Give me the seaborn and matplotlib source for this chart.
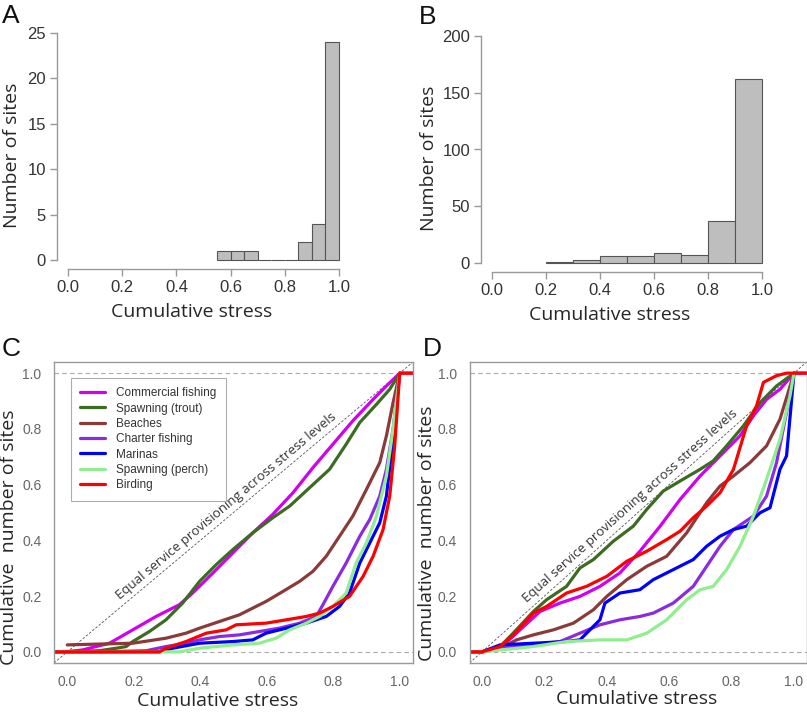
import numpy as np
import pandas as pd
import seaborn as sns
import matplotlib
matplotlib.use("Agg")
import matplotlib.pyplot as plt
from matplotlib.ticker import FormatStrFormatter

### Datos
## Histograma A: sitios por clase de estres acumulado
edges_a = [0.55, 0.60, 0.65, 0.70, 0.75, 0.80, 0.85, 0.90, 0.95, 1.00]
counts_a = [1, 1, 1, 0, 0, 0, 2, 4, 24]

## Histograma B
edges_b = [0.2, 0.3, 0.4, 0.5, 0.6, 0.7, 0.8, 0.9, 1.0]
counts_b = [1, 3, 6, 6, 9, 7, 37, 162]

## Curvas acumuladas, panel C
servicios = ["Commercial fishing", "Spawning (trout)", "Beaches", "Charter fishing",
             "Marinas", "Spawning (perch)", "Birding"]
colores = ["#D000F0", "#3C6B22", "#8B3A3A", "#8A2BE2", "#0000FF", "#90EE90", "#FF0000"]

c_commercial_x = [-0.05, 0.0, 0.046, 0.127, 0.197, 0.267, 0.337, 0.377, 0.438, 0.498, 0.558, 0.618, 0.679, 0.739, 0.799, 0.859, 0.920, 0.960, 1.0, 1.05]
c_commercial_y = [0.0, 0.0, 0.007, 0.031, 0.079, 0.127, 0.169, 0.211, 0.283, 0.355, 0.427, 0.493, 0.571, 0.661, 0.745, 0.829, 0.906, 0.954, 1.0, 1.0]
c_trout_x = [-0.05, 0.096, 0.147, 0.177, 0.197, 0.247, 0.297, 0.347, 0.398, 0.448, 0.498, 0.558, 0.618, 0.669, 0.729, 0.789, 0.839, 0.880, 0.930, 0.970, 1.0]
c_trout_y = [0.0, 0.004, 0.013, 0.019, 0.037, 0.073, 0.115, 0.175, 0.253, 0.313, 0.367, 0.427, 0.481, 0.523, 0.589, 0.655, 0.745, 0.823, 0.888, 0.942, 1.0]
c_beaches_x = [0.0, 0.197, 0.297, 0.357, 0.398, 0.458, 0.518, 0.558, 0.598, 0.649, 0.699, 0.739, 0.779, 0.819, 0.859, 0.900, 0.940, 0.960, 0.980, 1.0]
c_beaches_y = [0.025, 0.031, 0.049, 0.067, 0.085, 0.109, 0.133, 0.157, 0.181, 0.217, 0.253, 0.289, 0.343, 0.415, 0.487, 0.583, 0.679, 0.775, 0.894, 1.0]
c_charter_x = [-0.05, 0.096, 0.237, 0.297, 0.357, 0.398, 0.458, 0.518, 0.578, 0.638, 0.699, 0.749, 0.769, 0.799, 0.839, 0.880, 0.910, 0.940, 0.960, 0.980, 1.0]
c_charter_y = [0.0, 0.0, 0.004, 0.019, 0.031, 0.043, 0.055, 0.061, 0.073, 0.085, 0.103, 0.127, 0.169, 0.235, 0.319, 0.415, 0.475, 0.559, 0.655, 0.799, 1.0]
c_marinas_x = [-0.05, 0.277, 0.317, 0.398, 0.498, 0.558, 0.598, 0.659, 0.719, 0.779, 0.819, 0.849, 0.880, 0.910, 0.940, 0.960, 0.980, 1.0]
c_marinas_y = [0.0, 0.0, 0.013, 0.031, 0.037, 0.043, 0.067, 0.085, 0.103, 0.127, 0.163, 0.211, 0.319, 0.391, 0.463, 0.559, 0.763, 1.0]
c_perch_x = [-0.05, 0.337, 0.398, 0.498, 0.578, 0.628, 0.669, 0.719, 0.759, 0.799, 0.839, 0.869, 0.900, 0.930, 0.960, 0.980, 1.0]
c_perch_y = [0.0, 0.0, 0.013, 0.025, 0.031, 0.049, 0.079, 0.103, 0.127, 0.163, 0.211, 0.319, 0.391, 0.487, 0.631, 0.799, 1.0]
c_birding_x = [-0.05, 0.277, 0.297, 0.357, 0.418, 0.478, 0.508, 0.598, 0.659, 0.719, 0.759, 0.799, 0.849, 0.890, 0.920, 0.950, 0.970, 0.985, 1.0, 1.05]
c_birding_y = [0.0, 0.0, 0.013, 0.037, 0.067, 0.079, 0.097, 0.103, 0.115, 0.127, 0.139, 0.163, 0.199, 0.271, 0.343, 0.439, 0.559, 0.739, 1.0, 1.0]

## Curvas acumuladas, panel D
d_commercial_x = [-0.05, 0.0, 0.058, 0.122, 0.186, 0.250, 0.314, 0.378, 0.442, 0.506, 0.571, 0.635, 0.699, 0.763, 0.827, 0.870, 0.912, 0.955, 1.0, 1.05]
d_commercial_y = [0.0, 0.0, 0.013, 0.079, 0.145, 0.175, 0.199, 0.235, 0.283, 0.361, 0.451, 0.547, 0.631, 0.703, 0.775, 0.847, 0.906, 0.942, 1.0, 1.0]
d_trout_x = [-0.05, 0.0, 0.058, 0.100, 0.165, 0.207, 0.271, 0.314, 0.357, 0.421, 0.485, 0.528, 0.581, 0.635, 0.699, 0.741, 0.784, 0.838, 0.891, 0.944, 1.0]
d_trout_y = [0.0, 0.0, 0.019, 0.067, 0.145, 0.187, 0.235, 0.301, 0.331, 0.397, 0.451, 0.511, 0.577, 0.613, 0.655, 0.685, 0.739, 0.811, 0.894, 0.954, 1.0]
d_beaches_x = [-0.05, 0.0, 0.058, 0.111, 0.165, 0.229, 0.293, 0.357, 0.400, 0.464, 0.528, 0.592, 0.656, 0.720, 0.763, 0.806, 0.859, 0.912, 0.955, 1.0]
d_beaches_y = [0.0, 0.0, 0.013, 0.043, 0.061, 0.079, 0.103, 0.151, 0.199, 0.259, 0.307, 0.343, 0.427, 0.535, 0.595, 0.631, 0.679, 0.739, 0.835, 1.0]
d_charter_x = [-0.05, 0.0, 0.058, 0.165, 0.250, 0.314, 0.378, 0.442, 0.506, 0.549, 0.613, 0.677, 0.720, 0.763, 0.806, 0.870, 0.912, 0.944, 0.976, 1.0]
d_charter_y = [0.0, 0.0, 0.013, 0.025, 0.037, 0.067, 0.097, 0.115, 0.127, 0.139, 0.175, 0.235, 0.307, 0.379, 0.439, 0.487, 0.559, 0.679, 0.859, 1.0]
d_marinas_x = [-0.05, 0.0, 0.058, 0.165, 0.271, 0.314, 0.346, 0.378, 0.394, 0.442, 0.506, 0.549, 0.613, 0.677, 0.720, 0.763, 0.806, 0.848, 0.891, 0.923, 0.955, 0.976, 1.0]
d_marinas_y = [0.0, 0.0, 0.025, 0.031, 0.037, 0.043, 0.079, 0.115, 0.175, 0.211, 0.223, 0.259, 0.295, 0.331, 0.379, 0.415, 0.439, 0.451, 0.499, 0.517, 0.655, 0.703, 1.0]
d_perch_x = [-0.05, 0.0, 0.165, 0.271, 0.378, 0.464, 0.528, 0.592, 0.656, 0.699, 0.741, 0.784, 0.827, 0.870, 0.912, 0.955, 0.987, 1.0]
d_perch_y = [0.0, 0.0, 0.019, 0.037, 0.043, 0.043, 0.067, 0.115, 0.187, 0.223, 0.235, 0.295, 0.379, 0.487, 0.619, 0.763, 0.918, 1.0]
d_birding_x = [-0.05, 0.0, 0.058, 0.100, 0.165, 0.207, 0.271, 0.335, 0.400, 0.464, 0.528, 0.592, 0.635, 0.677, 0.720, 0.763, 0.806, 0.848, 0.880, 0.902, 0.944, 0.976, 1.0, 1.05]
d_birding_y = [0.0, 0.0, 0.019, 0.061, 0.139, 0.163, 0.211, 0.235, 0.271, 0.325, 0.361, 0.403, 0.433, 0.481, 0.523, 0.571, 0.655, 0.811, 0.883, 0.967, 0.991, 1.0, 1.0, 1.0]

curvas_c = [(c_commercial_x, c_commercial_y), (c_trout_x, c_trout_y), (c_beaches_x, c_beaches_y),
            (c_charter_x, c_charter_y), (c_marinas_x, c_marinas_y), (c_perch_x, c_perch_y),
            (c_birding_x, c_birding_y)]
curvas_d = [(d_commercial_x, d_commercial_y), (d_trout_x, d_trout_y), (d_beaches_x, d_beaches_y),
            (d_charter_x, d_charter_y), (d_marinas_x, d_marinas_y), (d_perch_x, d_perch_y),
            (d_birding_x, d_birding_y)]

### Estilo
sns.set_style("white")
plt.rcParams['font.family'] = ['Liberation Sans', 'DejaVu Sans']
fuente_etiqueta = {'family': 'Open Sans', 'size': 14}

fig = plt.figure(figsize=(8.07, 7.14), dpi=100)
W, H = 807, 714


def ejes(left, top, right, bottom):
    # Crear ejes a partir de coordenadas en pixeles
    return fig.add_axes([left / W, 1 - bottom / H, (right - left) / W, (bottom - top) / H])


def histograma(ax, edges, counts, ymax, yticks):
    centros = [(a + b) / 2 for a, b in zip(edges[:-1], edges[1:])]
    df = pd.DataFrame({"Estres": centros, "Sitios": counts})
    sns.histplot(data=df, x="Estres", weights="Sitios", bins=edges, ax=ax,
                 color="#BEBEBE", edgecolor="#555555", linewidth=0.8, alpha=1)
    ax.set_xlim(-0.04, 1.04)
    ax.set_ylim(-ymax * 0.04, ymax * 1.04)
    ax.set_xticks([0, 0.2, 0.4, 0.6, 0.8, 1.0])
    ax.xaxis.set_major_formatter(FormatStrFormatter('%.1f'))
    ax.set_yticks(yticks)
    for s in ["top", "right"]:
        ax.spines[s].set_visible(False)
    ax.spines["left"].set_bounds(0, ymax)
    ax.spines["bottom"].set_bounds(0, 1)
    for s in ["left", "bottom"]:
        ax.spines[s].set_color("#999999")
        ax.spines[s].set_linewidth(1)
    ax.tick_params(axis="both", direction="out", length=5, width=1, color="#999999",
                   labelsize=12, labelcolor="#333333", pad=3, bottom=True, left=True)
    ax.set_xlabel("Cumulative stress", fontdict=fuente_etiqueta)
    ax.set_ylabel("Number of sites", fontdict=fuente_etiqueta)


## Panel A
ax_a = ejes(57.2, 23.9, 349.8, 269.1)
histograma(ax_a, edges_a, counts_a, 25, [0, 5, 10, 15, 20, 25])
ax_a.xaxis.set_label_coords(0.461, -0.138)
ax_a.yaxis.set_label_coords(-0.124, 0.465)

## Panel B
ax_b = ejes(481.2, 26.9, 772.8, 272.1)
histograma(ax_b, edges_b, counts_b, 200, [0, 50, 100, 150, 200])
ax_b.xaxis.set_label_coords(0.442, -0.138)
ax_b.yaxis.set_label_coords(-0.148, 0.465)


def acumulado(ax, curvas, leyenda):
    ax.set_xlim(-0.04, 1.04)
    ax.set_ylim(-0.04, 1.04)
    ax.axhline(0, color="#AAAAAA", lw=0.8, ls=(0, (4, 3)))
    ax.axhline(1, color="#AAAAAA", lw=0.8, ls=(0, (4, 3)))
    ax.plot([-0.04, 1.04], [-0.04, 1.04], color="#555555", lw=0.6, ls=(0, (3, 2)))
    for (xs, ys), nombre, color in zip(curvas, servicios, colores):
        sns.lineplot(x=xs, y=ys, ax=ax, color=color, lw=2.3, sort=False, estimator=None,
                     label=nombre if leyenda else None)
    # Texto sobre la diagonal
    p0 = ax.transData.transform((0, 0))
    p1 = ax.transData.transform((1, 1))
    ang = np.degrees(np.arctan2(p1[1] - p0[1], p1[0] - p0[0]))
    ax.text(0.49, 0.505, "Equal service provisioning across stress levels", rotation=ang,
            rotation_mode="anchor", ha="center", va="bottom", fontsize=9.5,
            color="#333333", family="Open Sans")
    ax.set_xticks([0, 0.2, 0.4, 0.6, 0.8, 1.0])
    ax.set_yticks([0, 0.2, 0.4, 0.6, 0.8, 1.0])
    ax.xaxis.set_major_formatter(FormatStrFormatter('%.1f'))
    ax.yaxis.set_major_formatter(FormatStrFormatter('%.1f'))
    ax.tick_params(axis="both", length=0, labelsize=10, labelcolor="#666666", pad=9)
    for s in ax.spines.values():
        s.set_color("#999999")
        s.set_linewidth(1)
    ax.set_xlabel("Cumulative stress", fontdict=fuente_etiqueta)
    ax.set_ylabel("Cumulative  number of sites", fontdict=fuente_etiqueta)
    if leyenda:
        leg = ax.legend(loc="upper left", bbox_to_anchor=(0.031, 0.967), fontsize=8.5,
                        frameon=True, fancybox=False, handlelength=2.1, labelspacing=0.28,
                        borderpad=0.8, handletextpad=0.95)
        leg.get_frame().set_edgecolor("#999999")
        leg.get_frame().set_linewidth(0.8)
        for t in leg.get_texts():
            t.set_color("#333333")
    elif ax.get_legend() is not None:
        ax.get_legend().remove()


## Panel C
ax_c = ejes(54, 362, 413, 663)
acumulado(ax_c, curvas_c, True)
ax_c.xaxis.set_label_coords(0.457, -0.095)
ax_c.yaxis.set_label_coords(-0.1, 0.417)

## Panel D
ax_d = ejes(469.5, 362, 806.5, 663)
acumulado(ax_d, curvas_d, False)
ax_d.xaxis.set_label_coords(0.497, -0.09)
ax_d.yaxis.set_label_coords(-0.1, 0.43)

## Letras de los paneles
for letra, x, y in [("A", 11, 16), ("B", 428, 17), ("C", 11, 349), ("D", 432, 349)]:
    fig.text(x / W, 1 - y / H, letra, fontsize=19, ha="center", va="center", color="#111111")

plt.savefig("out.png", dpi=100)
